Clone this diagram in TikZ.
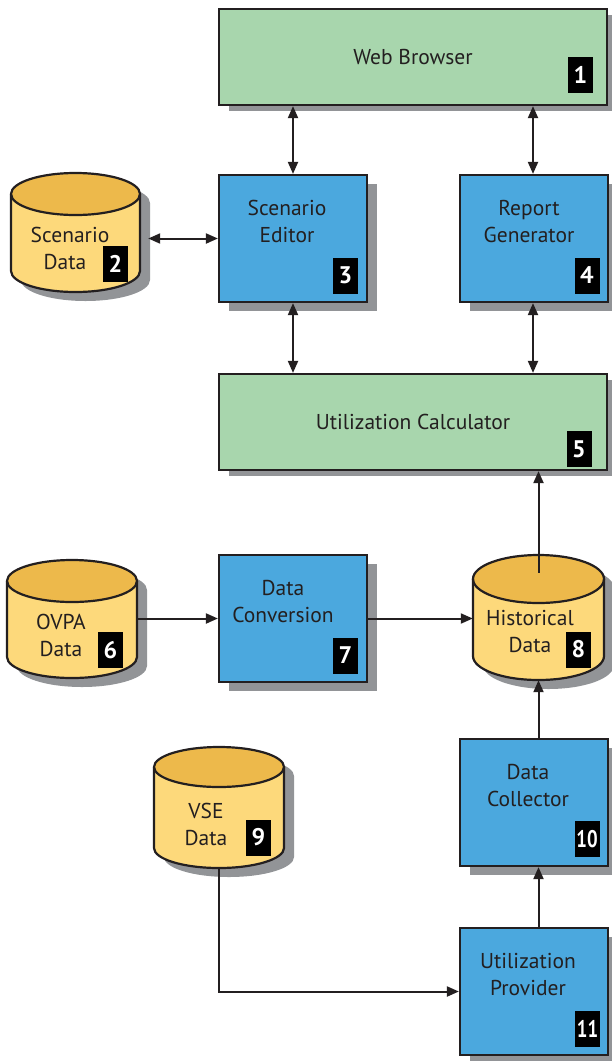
\documentclass[tikz,border=0pt]{standalone}
\usepackage{fontspec}
\setmainfont{PT Sans}
\usepackage{graphicx}
\usetikzlibrary{arrows.meta,calc,shadows}
\definecolor{boxgreen}{RGB}{168,214,173}
\definecolor{boxblue}{RGB}{75,168,222}
\definecolor{cylbody}{RGB}{253,217,123}
\definecolor{cyltop}{RGB}{237,185,75}
\definecolor{shadowgrey}{RGB}{146,148,151}
\definecolor{outline}{RGB}{35,31,32}
\newcommand\dbcyl[6]{%
  \pgfmathsetmacro\cylcx{(#2+#3)/2}%
  \pgfmathsetmacro\cylrx{(#3-#2)/2}%
  \pgfmathsetmacro\cylcy{-(#4+#5)/2}%
  \pgfmathsetmacro\cylh{#5-#4+2*#6}%
  \pgfmathsetmacro\cylw{#3-#2}%
  \fill[shadowgrey] (#2+10,-#4-9) -- (#2+10,-#5-9) arc[start angle=180,end angle=360,x radius=\cylrx,y radius=#6] -- (#3+10,-#4-9) arc[start angle=0,end angle=180,x radius=\cylrx,y radius=#6] -- cycle;
  \fill[cylbody] (#2,-#4) -- (#2,-#5) arc[start angle=180,end angle=360,x radius=\cylrx,y radius=#6] -- (#3,-#4) -- cycle;
  \filldraw[fill=cyltop,draw=outline,line width=2.2pt] (\cylcx,-#4) ellipse[x radius=\cylrx,y radius=#6];
  \draw[outline,line width=2.2pt] (#2,-#4) -- (#2,-#5) arc[start angle=180,end angle=360,x radius=\cylrx,y radius=#6] -- (#3,-#4);
  \node[inner sep=0pt,minimum width=\cylw pt,minimum height=\cylh pt] (#1) at (\cylcx,\cylcy) {};
}
\begin{document}
\begin{tikzpicture}[x=1pt,y=1pt,
  lbl/.style={text=outline,align=center,inner sep=0pt,font=\fontsize{21.5}{27}\selectfont},
  smallbox/.style={draw=outline,line width=2.2pt,fill=boxblue,inner sep=0pt,minimum width=148pt,minimum height=127pt,
    drop shadow={opacity=1,fill=shadowgrey,shadow xshift=10pt,shadow yshift=-9pt}},
  widebox/.style={draw=outline,line width=2.2pt,fill=boxgreen,inner sep=0pt,minimum width=388pt,minimum height=96pt,
    drop shadow={opacity=1,fill=shadowgrey,shadow xshift=10pt,shadow yshift=-6pt}},
  badge/.style={fill=black,text=white,inner sep=0pt,minimum width=25pt,minimum height=36pt,font=\fontsize{24}{24}\selectfont\bfseries},
  conn/.style={draw=outline,line width=2pt,-{Triangle[length=12pt,width=10pt]}},
  biconn/.style={draw=outline,line width=2pt,{Triangle[length=12pt,width=10pt]}-{Triangle[length=12pt,width=10pt]}}
]
\useasboundingbox (0,0) rectangle (611,-1061);

% cylinders
\dbcyl{sd}{11}{140}{194}{271}{21}
\dbcyl{ovpa}{7}{137}{581}{657}{21}
\dbcyl{hist}{473}{604}{579}{656}{24}
\dbcyl{vse}{154}{284}{767}{848}{20}

% boxes
\node[widebox] (wb) at (413,-57) {};
\node[smallbox] (se) at (293,-238.5) {};
\node[smallbox] (rg) at (534,-238.5) {};
\node[widebox] (uc) at (413,-422) {};
\node[smallbox] (dc) at (293,-618.5) {};
\node[smallbox] (dcol) at (534,-802.5) {};
\node[smallbox] (up) at (534,-991.5) {};

% labels
\node[lbl] (twb) at (413,-57) {Web Browser};
\node[lbl] (tse) at (287,-221.5) {Scenario\\Editor};
\node[lbl] (trg) at (529,-221.5) {Report\\Generator};
\node[lbl] (tuc) at (413,-422) {Utilization Calculator};
\node[lbl] (tdc) at (283,-601.5) {Data\\Conversion};
\node[lbl] (tdcol) at (528,-785.5) {Data\\Collector};
\node[lbl] (tup) at (528,-975) {Utilization\\Provider};
\node[lbl] (tsd) at (70,-248.5) {Scenario\\\hspace*{-10pt}Data};
\node[lbl] (tovpa) at (61,-635.5) {OVPA\\Data};
\node[lbl] (thist) at (530,-632) {Historical\\Data};
\node[lbl] (tvse) at (206,-824.5) {VSE\\Data};

% badges
\node[badge] (b1) at (580.5,-74.5) {1};
\node[badge] (b2) at (115.5,-263.5) {2};
\node[badge] (b3) at (345.5,-275.5) {3};
\node[badge] (b4) at (587,-275.5) {4};
\node[badge] (b5) at (579,-449) {5};
\node[badge] (b6) at (110.5,-650) {6};
\node[badge] (b7) at (345.5,-655.5) {7};
\node[badge] (b8) at (578.5,-649.5) {8};
\node[badge] (b9) at (258.5,-837.5) {9};
\node[badge] (b10) at (587,-839) {\scalebox{0.78}[1]{10}};
\node[badge] (b11) at (587.5,-1028.5) {\scalebox{0.78}[1]{11}};

% connectors
\draw[biconn] (se.north |- wb.south) -- (se.north);
\draw[biconn] ([xshift=-1pt]rg.north |- wb.south) -- ([xshift=-1pt]rg.north);
\draw[biconn] ([xshift=8pt]sd.east |- se.west) -- (se.west);
\draw[biconn] (se.south) -- (se.south |- uc.north);
\draw[biconn] ([xshift=-1pt]rg.south) -- ([xshift=-1pt]rg.south |- uc.north);
\draw[conn] ([yshift=-18pt]hist.north) -- (hist.north |- uc.south);
\draw[conn] (ovpa.east |- dc.west) -- (dc.west);
\draw[conn] (dc.east) -- (dc.east -| hist.west);
\draw[conn] (hist.south |- dcol.north) -- (hist.south);
\draw[conn] (hist.south |- up.north) -- (hist.south |- dcol.south);
\draw[conn] (vse.south) |- (up.west);
\end{tikzpicture}
\end{document}
